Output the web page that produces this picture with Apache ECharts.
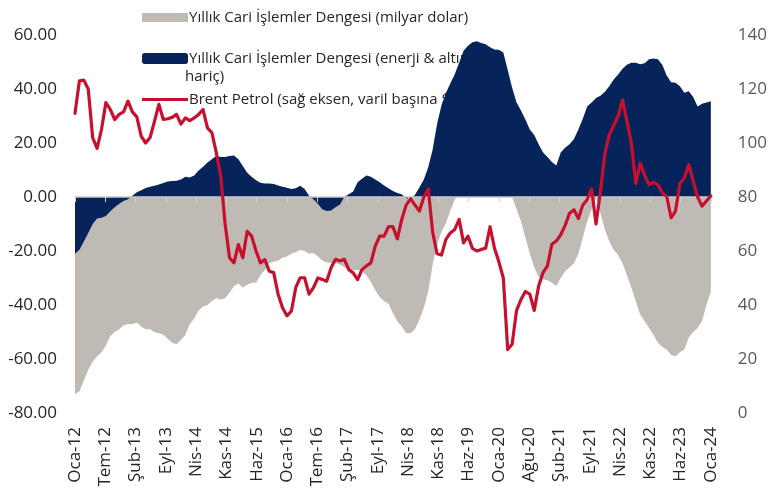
<!DOCTYPE html>
<html>
<head>
<meta charset="utf-8">
<script src="https://cdn.jsdelivr.net/npm/echarts@6/dist/echarts.min.js"></script>
<style>
html,body{margin:0;padding:0;background:#ffffff;}
#chart{width:770px;height:496px;}
</style>
</head>
<body>
<div id="chart"></div>
<script>
// X tick labels (21 equal intervals over Oca-12 .. Oca-24, monthly data index 0..144)
const tickLabels = ['Oca-12','Tem-12','Şub-13','Eyl-13','Nis-14','Kas-14','Haz-15','Oca-16','Tem-16','Şub-17','Eyl-17','Nis-18','Kas-18','Haz-19','Oca-20','Ağu-20','Şub-21','Eyl-21','Nis-22','Kas-22','Haz-23','Oca-24'];

// Yıllık Cari İşlemler Dengesi (milyar dolar), monthly Jan-2012 .. Jan-2024
const caTotal = [
  -73, -72, -68, -64, -61, -59, -57.5, -55, -51.5, -50, -49, -47.5,
  -47, -47, -46.5, -48, -49, -49, -50, -50.5, -51, -52.5, -54, -54.5,
  -53, -51, -47, -45, -42, -40.5, -40, -38.5, -37.5, -38, -37.5, -35.5,
  -33, -32, -33.5, -32.5, -31.8, -31.8, -29, -27, -24.5, -24, -23.5, -22.5,
  -22, -21, -20.5, -19.5, -20, -21, -20.7, -22, -23.5, -24.2, -24.4, -24.4,
  -25, -26, -26.5, -27, -27, -27.5, -29, -31.5, -34.5, -37, -38.5, -39.5,
  -43, -46, -48, -50.5, -50.5, -49, -45.5, -41, -35, -25, -17.5, -13,
  -9.6, -5, -1, 1.5, 3, 4.5, 5.5, 6.5, 7, 8, 8.5, 9,
  8, 5.5, 3, 0, -4.5, -9, -15, -21, -26, -29.5, -30.6, -30.8,
  -31.8, -33, -30, -27.5, -26, -24.5, -21, -15, -9, -4.6, -0.5, -6,
  -12, -16.5, -19.5, -21.5, -24.5, -29, -33.5, -38.5, -43.5, -46, -48.5, -51,
  -54, -55.5, -56.5, -58.5, -59, -57.5, -56.5, -52, -50, -48.5, -46, -40,
  -35
];

// Yıllık Cari İşlemler Dengesi (enerji & altın hariç)
const caCore = [
  -21, -19.5, -16.5, -13.3, -10, -8, -7.7, -7, -5.3, -3.8, -2.5, -1.5,
  -0.8, 0.5, 1.8, 2.5, 3.3, 3.8, 4.2, 4.6, 5.2, 5.7, 5.9, 6,
  6.5, 7.5, 7.2, 8, 9.8, 11.2, 12.8, 14, 15.2, 14.8, 14.8, 15.2,
  15.4, 14, 11.5, 9, 7.5, 6.2, 5.3, 5, 5, 4.8, 4.3, 3.8,
  3.4, 3, 3.2, 4.2, 3, 0.5, -0.8, -2.5, -4.5, -5.2, -5, -3.8,
  -2.8, 0, 1, 2, 5.5, 6.8, 8, 7.5, 6.5, 5.5, 4.3, 3.2,
  2.2, 1.5, 1, -0.5, -0.8, 0.8, 3.5, 6.5, 11, 17.6, 27, 34,
  38.5, 42, 45.5, 49.7, 54.2, 56, 57.3, 57.7, 57, 56.6, 55.5, 54.6,
  54.5, 53.5, 47, 40.5, 35, 32, 28.7, 25, 23, 19.5, 16.5, 14.8,
  13, 11.7, 16.5, 18.2, 19.5, 21.5, 25, 29, 33.5, 35, 36.7, 37.5,
  39, 41, 43.5, 45.4, 47.5, 49, 49.7, 49.7, 49.2, 49.5, 51, 51.3,
  51, 49, 45, 42.5, 42.3, 41, 38.6, 39.2, 37, 33.5, 34.5, 35,
  35.5
];

// Brent Petrol (sağ eksen, varil başına $)
const brent = [
  111, 123, 123.3, 120, 102, 98, 105, 115, 112.4, 108.7, 110.6, 111.5,
  115.5, 111.5, 109.7, 102.5, 100, 102, 108, 114.3, 108.7, 109, 109.5, 110.6,
  107, 109.3, 108.3, 109.3, 110.6, 112.4, 105.6, 103.8, 96.4, 87.7, 70, 57.5,
  55.6, 62.4, 57.5, 67.3, 65.5, 60, 55.6, 56.8, 52.5, 52, 44, 39,
  36, 37.7, 46.5, 50.1, 50.1, 44, 46.4, 50, 49.5, 48.8, 53.8, 56.9,
  56.3, 56.9, 53.1, 51.9, 49.4, 53.1, 54.5, 55.6, 61.8, 65.5, 65.5, 69,
  69, 64.5, 71.7, 77, 79.3, 77, 74.8, 80, 83, 67, 59, 58.5,
  64.3, 66.7, 68, 71.7, 63, 65.5, 61, 60, 60.6, 61, 69, 61,
  56, 50, 23.5, 25.5, 38, 42, 45, 44, 38, 47, 52, 54.5,
  62.5, 63.7, 66, 69.5, 74, 75.3, 72, 77, 79, 83, 70, 82,
  96, 103, 106.5, 110, 116, 108, 100, 85, 92.5, 88, 84.6, 85.5,
  84.5, 81.5, 80.3, 72.3, 74.8, 85, 87, 92, 86, 80, 76.6, 78.5,
  80.5
];

const nameTotal = 'Yıllık Cari İşlemler Dengesi (milyar dolar)';
const nameCore = 'Yıllık Cari İşlemler Dengesi (enerji & altın hariç)';
const nameBrent = 'Brent Petrol (sağ eksen, varil başına $)';

const nMonths = caTotal.length - 1;           // 144
const step = nMonths / (tickLabels.length - 1); // 21 equal intervals
const toXY = arr => arr.map((v, i) => [i, v]);

const FONT = 'Open Sans';
const chart = echarts.init(document.getElementById('chart'), null, {renderer: 'canvas'});

const legendText = {fontFamily: FONT, fontSize: 15, color: '#262626', padding: [0, 0, 0, -4]};

chart.setOption({
  animation: false,
  backgroundColor: '#ffffff',
  textStyle: {fontFamily: FONT},
  grid: {left: 75, right: 55, top: 35, bottom: 83, containLabel: false},
  legend: [
    {data: [nameTotal], left: 137, top: 5, orient: 'vertical', itemWidth: 46, itemHeight: 9,
     icon: 'rect', itemGap: 0, textStyle: legendText, z: 1, selectedMode: false},
    {data: [nameCore], left: 137, top: 46, orient: 'vertical', itemWidth: 46, itemHeight: 11,
     icon: 'roundRect', textStyle: legendText, z: 1, selectedMode: false,
     formatter: n => n.replace(' hariç)', '')},
    {data: [nameBrent], left: 137, top: 87, orient: 'vertical', itemWidth: 46, itemHeight: 3,
     icon: 'rect', textStyle: legendText, z: 1, selectedMode: false}
  ],
  graphic: [
    {type: 'text', left: 185, top: 69, z: 1,
     style: {text: 'hariç)', font: '15px "Open Sans"', fill: '#262626'}}
  ],
  xAxis: [
    {
      type: 'value', min: 0, max: nMonths, interval: step, position: 'bottom',
      axisLine: {show: false, onZero: false}, axisTick: {show: false}, splitLine: {show: false},
      axisLabel: {
        rotate: 90, margin: 14, fontSize: 17, color: '#262626', fontFamily: FONT,
        padding: [6, 0, 0, 0],
        showMinLabel: true, showMaxLabel: true,
        formatter: v => tickLabels[Math.round(v / step)] || ''
      }
    },
    {
      type: 'value', min: 0, max: nMonths, interval: step, position: 'bottom', z: 4,
      axisLine: {show: true, onZero: true, lineStyle: {color: '#c9c9c9', width: 1.5}},
      axisTick: {show: true, length: 5, lineStyle: {color: '#d4d4d4', width: 1}},
      axisLabel: {show: false}, splitLine: {show: false}
    }
  ],
  yAxis: [
    {
      type: 'value', min: -80, max: 60, interval: 20, position: 'left',
      axisLine: {show: false}, axisTick: {show: false}, splitLine: {show: false},
      axisLabel: {fontSize: 17, color: '#262626', margin: 18, fontFamily: FONT,
                  formatter: v => v.toFixed(2)}
    },
    {
      type: 'value', min: 0, max: 140, interval: 20, position: 'right',
      axisLine: {show: false}, axisTick: {show: false}, splitLine: {show: false},
      axisLabel: {fontSize: 17, color: '#595959', margin: 27, fontFamily: FONT}
    }
  ],
  series: [
    {
      name: nameTotal, type: 'line', xAxisIndex: 0, yAxisIndex: 0, data: toXY(caTotal),
      showSymbol: false, symbol: 'none', z: 2, color: '#bfbab4',
      lineStyle: {width: 0, color: '#bfbab4'}, itemStyle: {color: '#bfbab4'},
      areaStyle: {color: '#bfbab4', opacity: 1, origin: 'auto'}
    },
    {
      name: nameCore, type: 'line', xAxisIndex: 0, yAxisIndex: 0, data: toXY(caCore),
      showSymbol: false, symbol: 'none', z: 3, color: '#06235a',
      lineStyle: {width: 0, color: '#06235a'}, itemStyle: {color: '#06235a'},
      areaStyle: {color: '#06235a', opacity: 1, origin: 'auto'}
    },
    {
      name: nameBrent, type: 'line', xAxisIndex: 0, yAxisIndex: 1, data: toXY(brent),
      showSymbol: false, symbol: 'none', z: 5, color: '#c8102e',
      itemStyle: {color: '#c8102e'},
      lineStyle: {width: 3.2, color: '#c8102e', join: 'round', cap: 'round'}
    }
  ]
});
</script>
</body>
</html>
